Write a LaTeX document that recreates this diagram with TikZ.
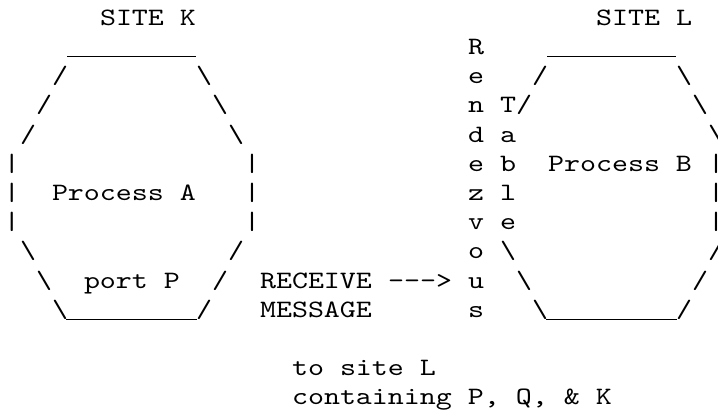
\documentclass[tikz,border=0pt]{standalone}
\usepackage{fontspec}
\newfontfamily\asciifont{lmmono10-regular}[Extension=.otf,FakeStretch=1.219,Ligatures=TeXOff]
\begin{document}
\begin{tikzpicture}[x=1pt,y=1pt,
  asc/.style={anchor=base west, inner sep=0pt, outer sep=0pt,
    font=\asciifont\fontsize{25}{29.2}\selectfont},
  uline/.style={draw=black, line width=1.1pt}]
\useasboundingbox (0,0) rectangle (718,-417);
\fill[white] (0,0) rectangle (718,-417);
% row 0
\node[asc] (siteK) at (100,-25.3) {SITE K};
\node[asc] (siteL) at (596,-25.3) {SITE L};
% row 1
\coordinate (ta1) at (67,-56.2);
\coordinate (ta2) at (196,-56.2);
\draw[uline] (ta1) -- (ta2);
\node[asc] (rz1) at (468,-54.2) {R};
\coordinate (tb1) at (547,-56.2);
\coordinate (tb2) at (676,-56.2);
\draw[uline] (tb1) -- (tb2);
% row 2
\node[asc] (a2l) at (52,-83.7) {/};
\node[asc] (a2r) at (196,-83.7) {\textbackslash};
\node[asc] (rz2) at (468,-83.7) {e};
\node[asc] (b2l) at (532,-83.7) {/};
\node[asc] (b2r) at (676,-83.7) {\textbackslash};
% row 3
\node[asc] (a3l) at (36,-112.9) {/};
\node[asc] (a3r) at (212,-112.9) {\textbackslash};
\node[asc] (rz3) at (468,-112.9) {n};
\node[asc] (tb3) at (500,-112.9) {T};
\node[asc] (b3l) at (516,-112.9) {/};
\node[asc] (b3r) at (692,-112.9) {\textbackslash};
% row 4
\node[asc] (a4l) at (20,-142.1) {/};
\node[asc] (a4r) at (228,-142.1) {\textbackslash};
\node[asc] (rz4) at (468,-142.1) {d};
\node[asc] (tb4) at (500,-142.1) {a};
\node[asc] (b4r) at (708,-142.1) {\textbackslash};
% row 5
\node[asc] (a5l) at (4,-171.3) {|};
\node[asc] (a5r) at (244,-171.3) {|};
\node[asc] (rz5) at (468,-171.3) {e};
\node[asc] (tb5) at (500,-171.3) {b};
\node[asc] (procB) at (548,-171.3) {Process B};
\node[asc] (b5r) at (708,-171.3) {|};
% row 6
\node[asc] (a6l) at (4,-200.5) {|};
\node[asc] (procA) at (52,-200.5) {Process A};
\node[asc] (a6r) at (244,-200.5) {|};
\node[asc] (rz6) at (468,-200.5) {z};
\node[asc] (tb6) at (500,-200.5) {l};
\node[asc] (b6r) at (708,-200.5) {|};
% row 7
\node[asc] (a7l) at (4,-229.7) {|};
\node[asc] (a7r) at (244,-229.7) {|};
\node[asc] (rz7) at (468,-229.7) {v};
\node[asc] (tb7) at (500,-229.7) {e};
\node[asc] (b7r) at (708,-229.7) {|};
% row 8
\node[asc] (a8l) at (20,-258.9) {\textbackslash};
\node[asc] (a8r) at (228,-258.9) {/};
\node[asc] (rz8) at (468,-258.9) {o};
\node[asc] (b8l) at (500,-258.9) {\textbackslash};
\node[asc] (b8r) at (708,-258.9) {/};
% row 9
\node[asc] (a9l) at (36,-288.1) {\textbackslash};
\node[asc] (portP) at (84,-288.1) {port P};
\node[asc] (a9r) at (212,-288.1) {/};
\node[asc] (recv) at (260,-288.1) {RECEIVE};
\node[asc] (arrow) at (388,-288.1) {--->};
\node[asc] (rz9) at (468,-288.1) {u};
\node[asc] (b9l) at (516,-288.1) {\textbackslash};
\node[asc] (b9r) at (692,-288.1) {/};
% row 10
\node[asc] (a10l) at (52,-317.0) {\textbackslash};
\coordinate (ba1) at (66,-319.2);
\coordinate (ba2) at (197,-319.2);
\draw[uline] (ba1) -- (ba2);
\node[asc] (a10r) at (196,-317.0) {/};
\node[asc] (msg) at (260,-317.0) {MESSAGE};
\node[asc] (rz10) at (468,-317.0) {s};
\node[asc] (b10l) at (532,-317.0) {\textbackslash};
\coordinate (bb1) at (546,-319.2);
\coordinate (bb2) at (677,-319.2);
\draw[uline] (bb1) -- (bb2);
\node[asc] (b10r) at (676,-317.0) {/};
% rows 12-13
\node[asc] (toL) at (292,-375.7) {to site L};
\node[asc] (cont) at (292,-404.9) {containing P, Q, \& K};
\end{tikzpicture}
\end{document}
